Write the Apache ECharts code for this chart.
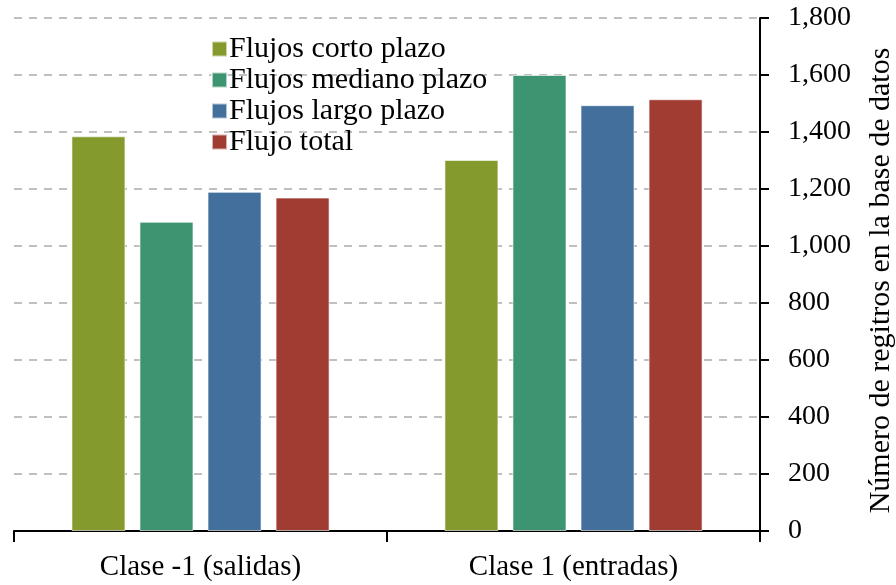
<!DOCTYPE html>
<html>
<head>
<meta charset="utf-8">
<script src="https://cdn.jsdelivr.net/npm/echarts@6/dist/echarts.min.js"></script>
<style>html,body{margin:0;padding:0;background:#fff}#c{width:896px;height:585px}</style>
</head>
<body>
<div id="c"></div>
<script>
const categories = ['Clase -1 (salidas)', 'Clase 1 (entradas)'];
const seriesNames = ['Flujos corto plazo', 'Flujos mediano plazo', 'Flujos largo plazo', 'Flujo total'];
const cortoPlazo = [1385, 1302];
const medianoPlazo = [1085, 1600];
const largoPlazo = [1190, 1494];
const flujoTotal = [1170, 1515];
const yTicks = [0, 200, 400, 600, 800, 1000, 1200, 1400, 1600, 1800];
const colors = ['#849A2D', '#3D9470', '#426F9C', '#A13C33'];
const values = [cortoPlazo, medianoPlazo, largoPlazo, flujoTotal];

const font = 'Liberation Serif, Times New Roman, serif';
const chart = echarts.init(document.getElementById('c'), null, {renderer: 'canvas'});
chart.setOption({
  animation: false,
  textStyle: {fontFamily: font},
  grid: {left: 14, right: 136, top: 18, bottom: 54, containLabel: false, outerBoundsMode: 'none'},
  legend: {
    orient: 'vertical', left: 206, top: 29,
    itemWidth: 15, itemHeight: 15, itemGap: 1,
    icon: 'rect',
    textStyle: {fontFamily: font, fontSize: 30, color: '#000', lineHeight: 30, padding: [0,0,0,-3]},
    data: seriesNames
  },
  xAxis: {
    type: 'category', data: categories,
    axisLine: {lineStyle: {color: '#000', width: 2}},
    axisTick: {show: true, length: 11, lineStyle: {color: '#000', width: 2}},
    axisLabel: {fontFamily: font, fontSize: 29, color: '#000', margin: 22},
    splitLine: {show: false}
  },
  yAxis: {
    type: 'value', position: 'right', min: yTicks[0], max: yTicks[yTicks.length-1], interval: 200,
    axisLine: {show: true, lineStyle: {color: '#000', width: 2}},
    axisTick: {show: true, length: 9, lineStyle: {color: '#000', width: 2}},
    axisLabel: {fontFamily: font, fontSize: 28, color: '#000', margin: 28,
      formatter: v => v.toLocaleString('en-US')},
    splitLine: {show: true, lineStyle: {color: '#C0C0C0', width: 2, type: [8, 7]}},
    name: 'Número de regitros en la base de datos',
    nameLocation: 'middle', nameRotate: 90, nameGap: 106,
    nameTextStyle: {fontFamily: font, fontSize: 30, color: '#000', padding: [0, 12, 0, 0]}
  },
  series: seriesNames.map((n, i) => ({
    name: n, type: 'bar', data: values[i],
    barWidth: 54, barGap: '26%',
    itemStyle: {color: colors[i], borderColor: 'rgba(255,255,255,0.6)', borderWidth: 1}
  }))
});
</script>
</body>
</html>
